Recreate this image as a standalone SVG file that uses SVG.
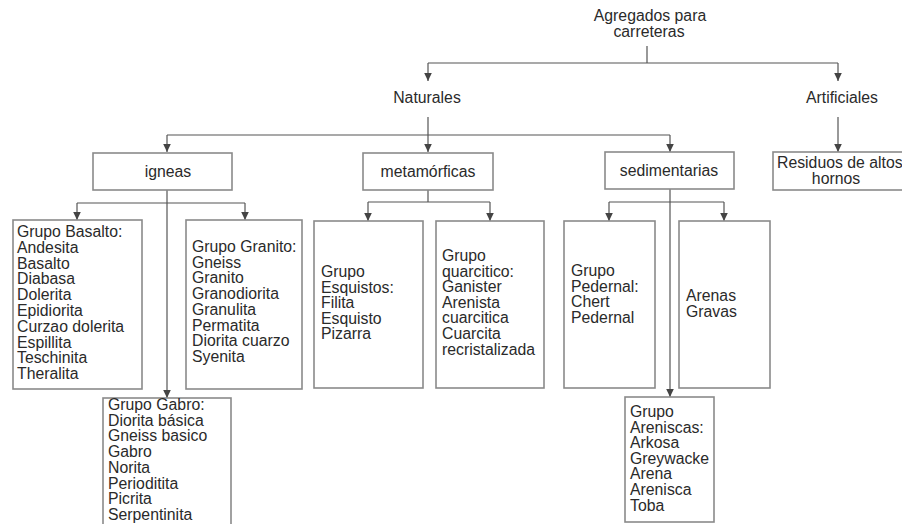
<svg xmlns="http://www.w3.org/2000/svg" width="902" height="524" viewBox="0 0 902 524">
<defs>
<marker id="arr" markerUnits="userSpaceOnUse" markerWidth="10" markerHeight="10" viewBox="0 0 10 10" refX="9" refY="5" orient="auto">
<path d="M1,1.2 L9,5 L1,8.8 Z" fill="#444"/>
</marker>
<style>
text{font-family:"Liberation Sans",Arial,sans-serif;font-size:15.8px;fill:#2a2a2a}
.c{text-anchor:middle}
.box{fill:#fff;stroke:#8a8a8a;stroke-width:1.6}
.ln{fill:none;stroke:#555;stroke-width:1.2}
.ar{fill:none;stroke:#555;stroke-width:1.2;marker-end:url(#arr)}
</style>
</defs>
<rect width="902" height="524" fill="#fff"/>
<g id="connectors">
<path class="ln" d="M647,46 V63 M428,63 H838"/>
<path class="ar" d="M428,63 V81"/>
<path class="ar" d="M838,63 V81"/>
<path class="ln" d="M428,117 V135 M167,135 H670"/>
<path class="ar" d="M428,135 V152"/>
<path class="ar" d="M167,135 V152"/>
<path class="ar" d="M670,135 V152"/>
<path class="ar" d="M838,117 V152"/>
<path class="ln" d="M77,203 H245"/>
<path class="ar" d="M77,203 V220"/>
<path class="ar" d="M245,203 V220"/>
<path class="ar" d="M167,190 V398"/>
<path class="ln" d="M428,190 V202 M368,202 H490"/>
<path class="ar" d="M368,202 V221"/>
<path class="ar" d="M490,202 V221"/>
<path class="ln" d="M609,202 H724"/>
<path class="ar" d="M609,202 V221"/>
<path class="ar" d="M724,202 V221"/>
<path class="ar" d="M670,189 V397"/>
</g>
<g id="root">
<text class="c" x="650" y="21">Agregados para</text>
<text class="c" x="649" y="37">carreteras</text>
</g>
<g id="naturales"><text class="c" x="427" y="103">Naturales</text></g>
<g id="artificiales"><text class="c" x="842" y="103">Artificiales</text></g>
<g id="residuos">
<rect class="box" x="773" y="152" width="135" height="38"/>
<text x="777" y="168">Residuos de altos</text>
<text class="c" x="836" y="184">hornos</text>
</g>
<g id="igneas">
<rect class="box" x="93" y="153" width="139" height="37"/>
<text class="c" x="168" y="177">igneas</text>
</g>
<g id="metamorficas">
<rect class="box" x="363" y="153" width="130" height="37"/>
<text class="c" x="428" y="177">metamórficas</text>
</g>
<g id="sedimentarias">
<rect class="box" x="605" y="152" width="129" height="37"/>
<text class="c" x="669" y="176">sedimentarias</text>
</g>
<g id="basalto">
<rect class="box" x="13" y="220" width="129" height="169"/>
<text x="17" y="237">Grupo Basalto:<tspan x="17" dy="15.8">Andesita</tspan><tspan x="17" dy="15.8">Basalto</tspan><tspan x="17" dy="15.8">Diabasa</tspan><tspan x="17" dy="15.8">Dolerita</tspan><tspan x="17" dy="15.8">Epidiorita</tspan><tspan x="17" dy="15.8">Curzao dolerita</tspan><tspan x="17" dy="15.8">Espillita</tspan><tspan x="17" dy="15.8">Teschinita</tspan><tspan x="17" dy="15.8">Theralita</tspan></text>
</g>
<g id="granito">
<rect class="box" x="186" y="220" width="116" height="169"/>
<text x="192" y="252">Grupo Granito:<tspan x="192" dy="15.7">Gneiss</tspan><tspan x="192" dy="15.7">Granito</tspan><tspan x="192" dy="15.7">Granodiorita</tspan><tspan x="192" dy="15.7">Granulita</tspan><tspan x="192" dy="15.7">Permatita</tspan><tspan x="192" dy="15.7">Diorita cuarzo</tspan><tspan x="192" dy="15.7">Syenita</tspan></text>
</g>
<g id="gabro">
<rect class="box" x="103" y="398" width="128" height="130"/>
<text x="108" y="410">Grupo Gabro:<tspan x="108" dy="15.7">Diorita básica</tspan><tspan x="108" dy="15.7">Gneiss basico</tspan><tspan x="108" dy="15.7">Gabro</tspan><tspan x="108" dy="15.7">Norita</tspan><tspan x="108" dy="15.7">Perioditita</tspan><tspan x="108" dy="15.7">Picrita</tspan><tspan x="108" dy="15.7">Serpentinita</tspan></text>
</g>
<g id="esquistos">
<rect class="box" x="314" y="221" width="109" height="167"/>
<text x="321" y="277">Grupo<tspan x="321" dy="15.6">Esquistos:</tspan><tspan x="321" dy="15.6">Filita</tspan><tspan x="321" dy="15.6">Esquisto</tspan><tspan x="321" dy="15.6">Pizarra</tspan></text>
</g>
<g id="quarcitico">
<rect class="box" x="436" y="221" width="108" height="167"/>
<text x="442" y="261">Grupo<tspan x="442" dy="15.6">quarcitico:</tspan><tspan x="442" dy="15.6">Ganister</tspan><tspan x="442" dy="15.6">Arenista</tspan><tspan x="442" dy="15.6">cuarcitica</tspan><tspan x="442" dy="15.6">Cuarcita</tspan><tspan x="442" dy="15.6">recristalizada</tspan></text>
</g>
<g id="pedernal">
<rect class="box" x="564" y="221" width="91" height="167"/>
<text x="571" y="276">Grupo<tspan x="571" dy="15.6">Pedernal:</tspan><tspan x="571" dy="15.6">Chert</tspan><tspan x="571" dy="15.6">Pedernal</tspan></text>
</g>
<g id="arenas">
<rect class="box" x="679" y="221" width="91" height="167"/>
<text x="686" y="301">Arenas<tspan x="686" dy="15.6">Gravas</tspan></text>
</g>
<g id="areniscas">
<rect class="box" x="625" y="397" width="89" height="125"/>
<text x="630" y="417">Grupo<tspan x="630" dy="15.6">Areniscas:</tspan><tspan x="630" dy="15.6">Arkosa</tspan><tspan x="630" dy="15.6">Greywacke</tspan><tspan x="630" dy="15.6">Arena</tspan><tspan x="630" dy="15.6">Arenisca</tspan><tspan x="630" dy="15.6">Toba</tspan></text>
</g>
</svg>
